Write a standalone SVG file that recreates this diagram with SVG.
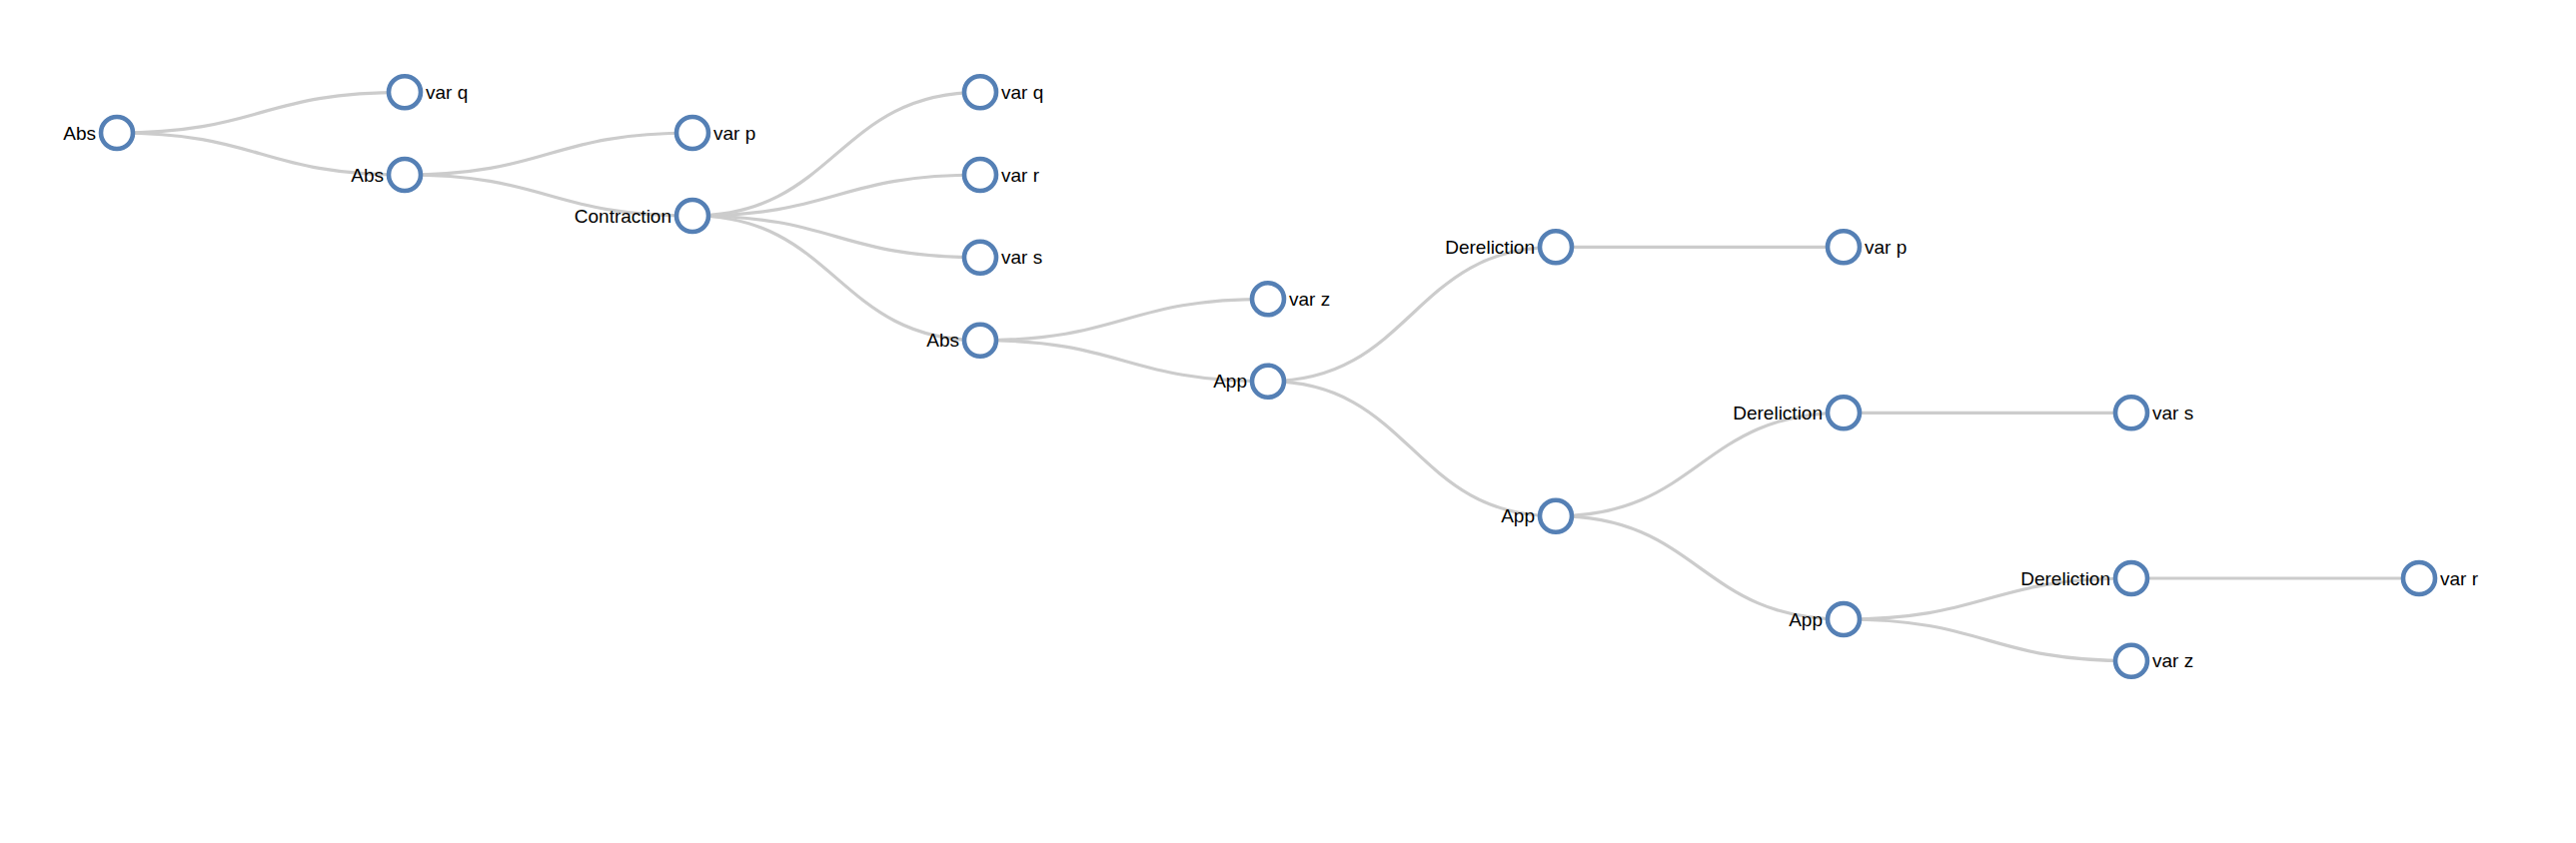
<svg xmlns="http://www.w3.org/2000/svg" width="2578" height="844" viewBox="0 0 2578 844">
<style>
.link{fill:none;stroke:#cccccc;stroke-width:3.2}
.node circle{fill:#ffffff;stroke:#5580b5;stroke-width:4.6}
.node text{font-family:"Liberation Sans",Arial,Helvetica,sans-serif;font-size:19px;fill:#000000}
.l text{text-anchor:end}
</style>
<rect width="2578" height="844" fill="#ffffff"/>
<g id="links">
<path class="link" d="M117,133 C261,133 261,92.3 405,92.3"/>
<path class="link" d="M117,133 C261,133 261,175 405,175"/>
<path class="link" d="M405,175 C549,175 549,133 693,133"/>
<path class="link" d="M405,175 C549,175 549,216 693,216"/>
<path class="link" d="M693,216 C837,216 837,92.3 981,92.3"/>
<path class="link" d="M693,216 C837,216 837,175 981,175"/>
<path class="link" d="M693,216 C837,216 837,257.7 981,257.7"/>
<path class="link" d="M693,216 C837,216 837,340.7 981,340.7"/>
<path class="link" d="M981,340.7 C1125,340.7 1125,299.3 1269,299.3"/>
<path class="link" d="M981,340.7 C1125,340.7 1125,381.7 1269,381.7"/>
<path class="link" d="M1269,381.7 C1413,381.7 1413,247.3 1557,247.3"/>
<path class="link" d="M1269,381.7 C1413,381.7 1413,516.7 1557,516.7"/>
<path class="link" d="M1557,247.3 C1701,247.3 1701,247.3 1845,247.3"/>
<path class="link" d="M1557,516.7 C1701,516.7 1701,413.3 1845,413.3"/>
<path class="link" d="M1557,516.7 C1701,516.7 1701,620 1845,620"/>
<path class="link" d="M1845,413.3 C1989,413.3 1989,413.3 2133,413.3"/>
<path class="link" d="M1845,620 C1989,620 1989,579 2133,579"/>
<path class="link" d="M1845,620 C1989,620 1989,661.7 2133,661.7"/>
<path class="link" d="M2133,579 C2277,579 2277,579 2421,579"/>
</g>
<g id="n0" class="node l" transform="translate(117,133)"><circle r="16"/><text x="-21" dy=".35em">Abs</text></g>
<g id="n1" class="node" transform="translate(405,92.3)"><circle r="16"/><text x="21" dy=".35em">var q</text></g>
<g id="n2" class="node l" transform="translate(405,175)"><circle r="16"/><text x="-21" dy=".35em">Abs</text></g>
<g id="n3" class="node" transform="translate(693,133)"><circle r="16"/><text x="21" dy=".35em">var p</text></g>
<g id="n4" class="node l" transform="translate(693,216)"><circle r="16"/><text x="-21" dy=".35em">Contraction</text></g>
<g id="n5" class="node" transform="translate(981,92.3)"><circle r="16"/><text x="21" dy=".35em">var q</text></g>
<g id="n6" class="node" transform="translate(981,175)"><circle r="16"/><text x="21" dy=".35em">var r</text></g>
<g id="n7" class="node" transform="translate(981,257.7)"><circle r="16"/><text x="21" dy=".35em">var s</text></g>
<g id="n8" class="node l" transform="translate(981,340.7)"><circle r="16"/><text x="-21" dy=".35em">Abs</text></g>
<g id="n9" class="node" transform="translate(1269,299.3)"><circle r="16"/><text x="21" dy=".35em">var z</text></g>
<g id="n10" class="node l" transform="translate(1269,381.7)"><circle r="16"/><text x="-21" dy=".35em">App</text></g>
<g id="n11" class="node l" transform="translate(1557,247.3)"><circle r="16"/><text x="-21" dy=".35em">Dereliction</text></g>
<g id="n12" class="node" transform="translate(1845,247.3)"><circle r="16"/><text x="21" dy=".35em">var p</text></g>
<g id="n13" class="node l" transform="translate(1557,516.7)"><circle r="16"/><text x="-21" dy=".35em">App</text></g>
<g id="n14" class="node l" transform="translate(1845,413.3)"><circle r="16"/><text x="-21" dy=".35em">Dereliction</text></g>
<g id="n15" class="node" transform="translate(2133,413.3)"><circle r="16"/><text x="21" dy=".35em">var s</text></g>
<g id="n16" class="node l" transform="translate(1845,620)"><circle r="16"/><text x="-21" dy=".35em">App</text></g>
<g id="n17" class="node l" transform="translate(2133,579)"><circle r="16"/><text x="-21" dy=".35em">Dereliction</text></g>
<g id="n18" class="node" transform="translate(2421,579)"><circle r="16"/><text x="21" dy=".35em">var r</text></g>
<g id="n19" class="node" transform="translate(2133,661.7)"><circle r="16"/><text x="21" dy=".35em">var z</text></g>
</svg>
